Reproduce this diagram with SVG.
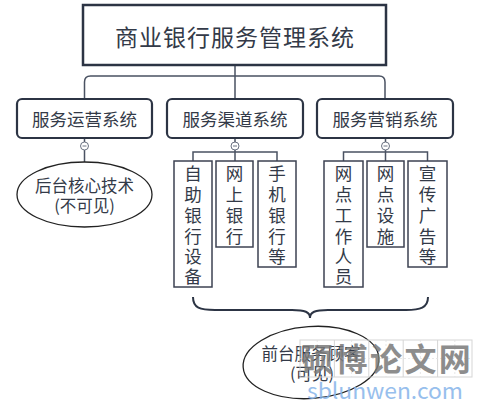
<svg xmlns="http://www.w3.org/2000/svg" width="489" height="410" viewBox="0 0 489 410">
<style>
  text { font-family: "Noto Sans CJK SC", "Noto Sans", sans-serif; fill: #333a48; }
  .title { font-size: 23px; letter-spacing: 1px; }
  .sub { font-size: 17.5px; }
  .vt { font-size: 17.5px; }
  .el { font-size: 16.5px; }
  .mainbox { fill: #fff; stroke: #2c3444; stroke-width: 2.5; }
  .subbox { fill: #fff; stroke: #2c3444; stroke-width: 2.2; }
  .leaf { fill: #fff; stroke: #3c4252; stroke-width: 1.5; }
  .conn { fill: none; stroke: #4a5262; stroke-width: 1.5; }
  .tog { fill: #fff; stroke: #6a7282; stroke-width: 1; }
  .ell { fill: none; stroke: #222; stroke-width: 1.3; }
  .wm { font-size: 32px; fill: #7a7a7a; font-weight: bold; }
  .grid { fill: none; stroke: #cfcfcf; stroke-width: 1; }
  .gridd { fill: none; stroke: #dddddd; stroke-width: 0.8; stroke-dasharray: 2 2; }
</style>
<defs>
  <g id="toggle">
    <circle class="tog" cx="0" cy="0" r="4"/>
    <line x1="-2" y1="0" x2="2" y2="0" stroke="#6a7282" stroke-width="1"/>
  </g>
</defs>

<g id="connectors">
  <path class="conn" d="M235,65 V99 M84.5,99 V82 Q84.5,76 90.5,76 H379 Q385,76 385,82 V99"/>
  <path class="conn" d="M84.5,138 V142 M84.5,150 V162"/>
  <path class="conn" d="M235,138 V142 M235,150 V161 M193,161 V152 H277 V161"/>
  <path class="conn" d="M385.5,138 V142 M385.5,150 V161 M343.5,161 V152 H427.5 V161"/>
  <path d="M193,297 C193,308 200,310 215,310 L292,310 C305,310 310,312 310,318 C310,312 315,310 328,310 L406,310 C420,310 428,308 428,297" fill="none" stroke="#2c3444" stroke-width="2"/>
  <use href="#toggle" x="84.5" y="146"/>
  <use href="#toggle" x="235" y="146"/>
  <use href="#toggle" x="385.5" y="146"/>
</g>

<g id="root">
  <rect class="mainbox" x="83" y="5" width="303" height="60"/>
  <text class="title" x="235" y="36" text-anchor="middle" dominant-baseline="central">商业银行服务管理系统</text>
</g>

<g id="ops">
  <rect class="subbox" x="17" y="99" width="135" height="39" rx="5"/>
  <text class="sub" x="84.5" y="118.5" text-anchor="middle" dominant-baseline="central">服务运营系统</text>
</g>
<g id="channel">
  <rect class="subbox" x="167" y="99" width="136" height="39" rx="5"/>
  <text class="sub" x="235" y="118.5" text-anchor="middle" dominant-baseline="central">服务渠道系统</text>
</g>
<g id="marketing">
  <rect class="subbox" x="317" y="99" width="136" height="39" rx="5"/>
  <text class="sub" x="385" y="118.5" text-anchor="middle" dominant-baseline="central">服务营销系统</text>
</g>

<g id="backend">
  <ellipse class="ell" cx="84.5" cy="194.5" rx="67.5" ry="32.5"/>
  <text class="el" x="84.5" y="185" text-anchor="middle" dominant-baseline="central">后台核心技术</text>
  <text class="el" x="84.5" y="205" text-anchor="middle" dominant-baseline="central">(不可见)</text>
</g>

<g id="selfservice">
  <rect class="leaf" x="174" y="161" width="38" height="126"/>
  <text class="vt" text-anchor="middle" dominant-baseline="central"><tspan x="193" y="172">自</tspan><tspan x="193" y="193">助</tspan><tspan x="193" y="214">银</tspan><tspan x="193" y="235">行</tspan><tspan x="193" y="255">设</tspan><tspan x="193" y="275">备</tspan></text>
</g>
<g id="onlinebank">
  <rect class="leaf" x="216" y="161" width="37" height="86"/>
  <text class="vt" text-anchor="middle" dominant-baseline="central"><tspan x="234.5" y="172">网</tspan><tspan x="234.5" y="193">上</tspan><tspan x="234.5" y="214">银</tspan><tspan x="234.5" y="235">行</tspan></text>
</g>
<g id="mobilebank">
  <rect class="leaf" x="258" y="161" width="38" height="106"/>
  <text class="vt" text-anchor="middle" dominant-baseline="central"><tspan x="277" y="172">手</tspan><tspan x="277" y="193">机</tspan><tspan x="277" y="214">银</tspan><tspan x="277" y="235">行</tspan><tspan x="277" y="255">等</tspan></text>
</g>

<g id="staff">
  <rect class="leaf" x="324" y="161" width="39" height="126"/>
  <text class="vt" text-anchor="middle" dominant-baseline="central"><tspan x="343.5" y="172">网</tspan><tspan x="343.5" y="193">点</tspan><tspan x="343.5" y="214">工</tspan><tspan x="343.5" y="235">作</tspan><tspan x="343.5" y="255">人</tspan><tspan x="343.5" y="275">员</tspan></text>
</g>
<g id="facility">
  <rect class="leaf" x="367" y="161" width="37" height="86"/>
  <text class="vt" text-anchor="middle" dominant-baseline="central"><tspan x="385.5" y="172">网</tspan><tspan x="385.5" y="193">点</tspan><tspan x="385.5" y="214">设</tspan><tspan x="385.5" y="235">施</tspan></text>
</g>
<g id="advert">
  <rect class="leaf" x="408" y="161" width="39" height="106"/>
  <text class="vt" text-anchor="middle" dominant-baseline="central"><tspan x="427.5" y="172">宣</tspan><tspan x="427.5" y="193">传</tspan><tspan x="427.5" y="214">广</tspan><tspan x="427.5" y="235">告</tspan><tspan x="427.5" y="255">等</tspan></text>
</g>

<g id="frontend">
  <ellipse class="ell" cx="311" cy="362.5" rx="68" ry="36" transform="rotate(-4 311 362.5)"/>
  <text class="el" x="311" y="353" text-anchor="middle" dominant-baseline="central">前台服务顾客</text>
  <text class="el" x="312" y="373" text-anchor="middle" dominant-baseline="central">(可见)</text>
</g>

<g id="watermark" opacity="0.85">
  <rect class="grid" x="300" y="340" width="172" height="37"/>
  <path class="grid" d="M334.4,340 V377 M368.8,340 V377 M403.2,340 V377 M437.6,340 V377"/>
  <path class="gridd" d="M317.2,340 V377 M351.6,340 V377 M386,340 V377 M420.4,340 V377 M454.8,340 V377 M300,358.5 H472"/>
  <text class="wm" text-anchor="middle"><tspan x="317.2" y="371">硕</tspan><tspan x="351.6" y="371">博</tspan><tspan x="386" y="371">论</tspan><tspan x="420.4" y="371">文</tspan><tspan x="454.8" y="371">网</tspan></text>
  <text x="307" y="399" font-family="Liberation Sans, Arial, sans-serif" font-size="22" textLength="156" lengthAdjust="spacingAndGlyphs" style="fill:#86b4ea">sblunwen.com</text>
</g>
</svg>
